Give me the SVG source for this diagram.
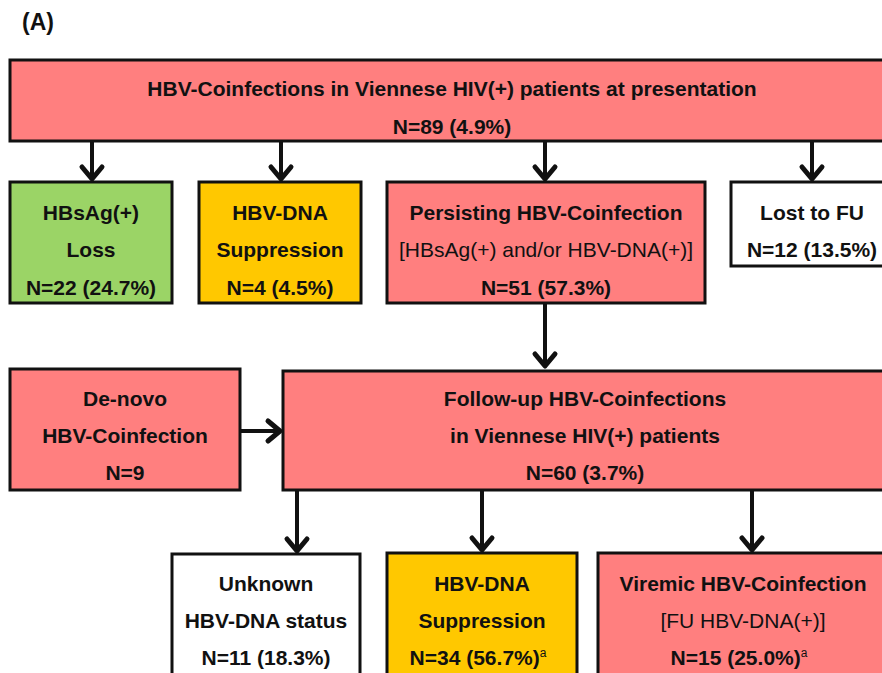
<svg xmlns="http://www.w3.org/2000/svg" width="882" height="673" viewBox="0 0 882 673">
<style>
.box{stroke:#111;stroke-width:3}
.red{fill:#FF7F7F}.grn{fill:#9BD466}.yel{fill:#FFC800}.wht{fill:#fff}
text{font-family:"Liberation Sans",Arial,sans-serif;font-size:21px;fill:#111;text-anchor:middle}
.b{font-weight:bold}
.sup{font-size:12px;font-weight:normal;text-anchor:start}
.con line{stroke:#111;stroke-width:4}
.con polyline{fill:none;stroke:#111;stroke-width:5;stroke-linejoin:round;stroke-linecap:round}
</style>
<text class="b" x="22" y="30" style="text-anchor:start;font-size:23px">(A)</text>
<g class="con">
<line x1="92" y1="141" x2="92" y2="178"/><polyline points="82,167 92,179 102,167"/>
<line x1="281" y1="141" x2="281" y2="178"/><polyline points="271,167 281,179 291,167"/>
<line x1="545" y1="141" x2="545" y2="178"/><polyline points="535,167 545,179 555,167"/>
<line x1="812" y1="141" x2="812" y2="178"/><polyline points="802,167 812,179 822,167"/>
<line x1="545" y1="303" x2="545" y2="365"/><polyline points="535,354 545,366 555,354"/>
<line x1="240" y1="431" x2="279" y2="431"/><polyline points="268,421 280,431 268,441"/>
<line x1="297" y1="490" x2="297" y2="550"/><polyline points="287,539 297,551 307,539"/>
<line x1="482" y1="490" x2="482" y2="549"/><polyline points="472,538 482,550 492,538"/>
<line x1="752" y1="490" x2="752" y2="549"/><polyline points="742,538 752,550 762,538"/>
</g>
<g id="top">
<rect class="box red" x="10" y="60" width="880" height="81"/>
<text class="b" x="452" y="96">HBV-Coinfections in Viennese HIV(+) patients at presentation</text>
<text class="b" x="452" y="134">N=89 (4.9%)</text>
</g>
<g id="hbsag-loss">
<rect class="box grn" x="10" y="182" width="162" height="121"/>
<text class="b" x="91" y="220">HBsAg(+)</text>
<text class="b" x="91" y="257">Loss</text>
<text class="b" x="91" y="295">N=22 (24.7%)</text>
</g>
<g id="dna-supp1">
<rect class="box yel" x="199" y="182" width="162" height="121"/>
<text class="b" x="280" y="220">HBV-DNA</text>
<text class="b" x="280" y="257">Suppression</text>
<text class="b" x="280" y="295">N=4 (4.5%)</text>
</g>
<g id="persisting">
<rect class="box red" x="387" y="182" width="318" height="121"/>
<text class="b" x="546" y="220">Persisting HBV-Coinfection</text>
<text x="546" y="257">[HBsAg(+) and/or HBV-DNA(+)]</text>
<text class="b" x="546" y="295">N=51 (57.3%)</text>
</g>
<g id="lost">
<rect class="box wht" x="731" y="182" width="160" height="84"/>
<text class="b" x="812" y="220">Lost to FU</text>
<text class="b" x="812" y="257">N=12 (13.5%)</text>
</g>
<g id="denovo">
<rect class="box red" x="10" y="369" width="230" height="121"/>
<text class="b" x="125" y="406">De-novo</text>
<text class="b" x="125" y="443">HBV-Coinfection</text>
<text class="b" x="125" y="480">N=9</text>
</g>
<g id="followup">
<rect class="box red" x="283" y="371" width="610" height="119"/>
<text class="b" x="585" y="406">Follow-up HBV-Coinfections</text>
<text class="b" x="585" y="443">in Viennese HIV(+) patients</text>
<text class="b" x="585" y="480">N=60 (3.7%)</text>
</g>
<g id="unknown">
<rect class="box wht" x="172" y="554" width="188" height="130"/>
<text class="b" x="266" y="591">Unknown</text>
<text class="b" x="266" y="628">HBV-DNA status</text>
<text class="b" x="266" y="665">N=11 (18.3%)</text>
</g>
<g id="dna-supp2">
<rect class="box yel" x="387" y="553" width="190" height="130"/>
<text class="b" x="482" y="591">HBV-DNA</text>
<text class="b" x="482" y="628">Suppression</text>
<text class="b" x="478" y="665">N=34 (56.7%)<tspan class="sup" dy="-8">a</tspan></text>
</g>
<g id="viremic">
<rect class="box red" x="598" y="553" width="295" height="130"/>
<text class="b" x="743" y="591">Viremic HBV-Coinfection</text>
<text x="743" y="628">[FU HBV-DNA(+)]</text>
<text class="b" x="739" y="665">N=15 (25.0%)<tspan class="sup" dy="-8">a</tspan></text>
</g>
</svg>
